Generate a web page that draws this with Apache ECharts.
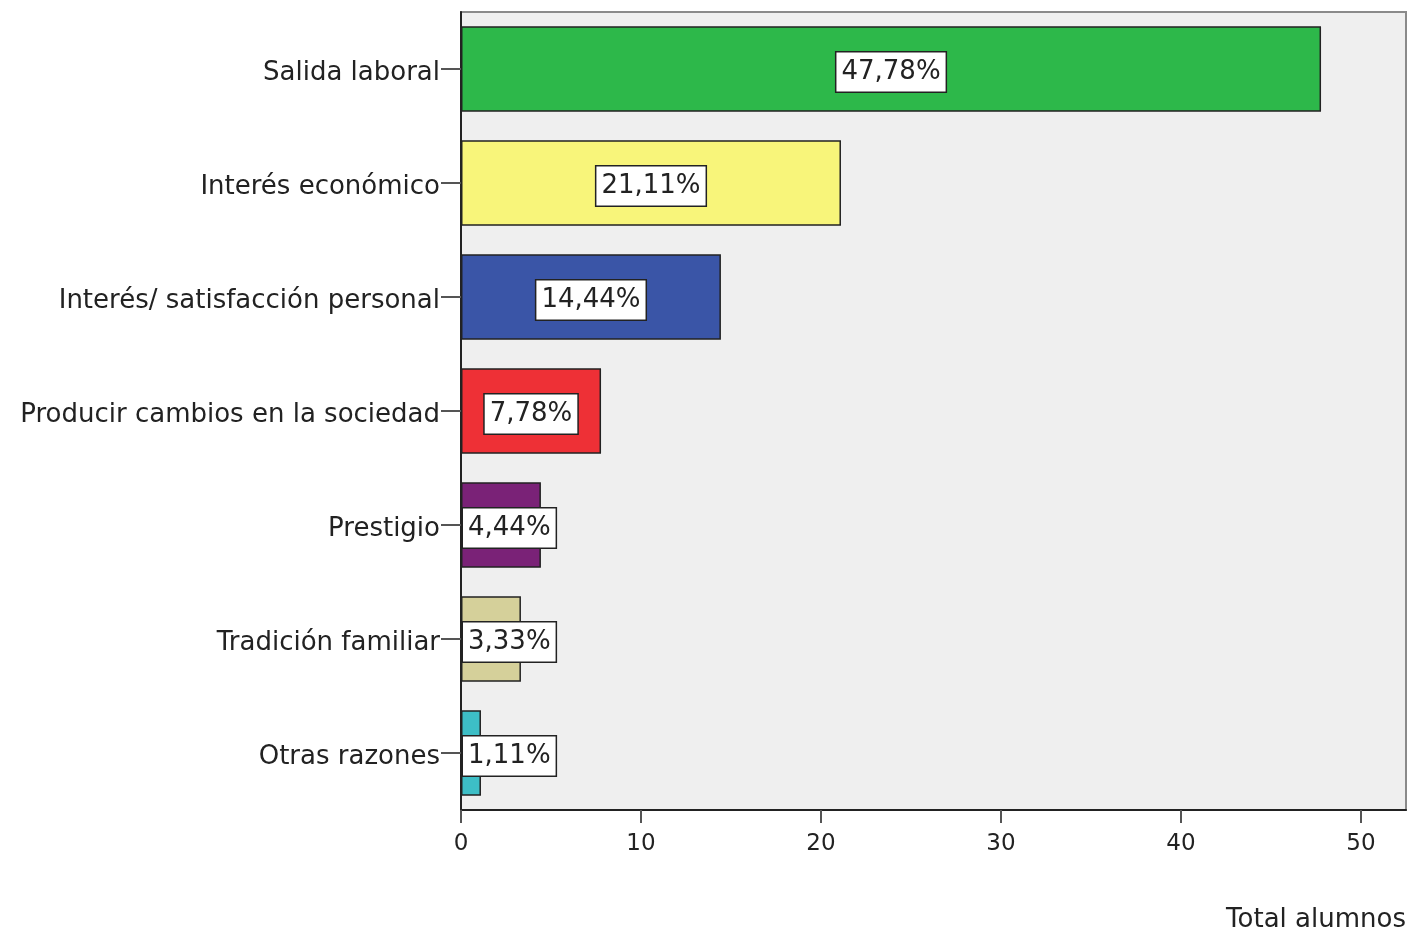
<!DOCTYPE html>
<html>
<head>
<meta charset="utf-8">
<script src="https://cdn.jsdelivr.net/npm/echarts@6/dist/echarts.min.js"></script>
<style>
  html, body { margin: 0; padding: 0; background: #fff; }
  #chart { width: 1408px; height: 932px; }
</style>
</head>
<body>
<div id="chart"></div>
<script>
// razones para elegir la carrera (porcentaje de alumnos)
var categories = ['Salida laboral', 'Interés económico', 'Interés/ satisfacción personal',
  'Producir cambios en la sociedad', 'Prestigio', 'Tradición familiar', 'Otras razones'];
var values = [47.78, 21.11, 14.44, 7.78, 4.44, 3.33, 1.11];
var labels = ['47,78%', '21,11%', '14,44%', '7,78%', '4,44%', '3,33%', '1,11%'];
var barColors = ['#2db84a', '#f8f57a', '#3a55a7', '#ee3036', '#7a2277', '#d5d09a', '#3dbec6'];
var xTicks = [0, 10, 20, 30, 40, 50];

var FONT = 'DejaVu Sans';

var chart = echarts.init(document.getElementById('chart'));

var seriesData = values.map(function (v, i) {
  // etiquetas que no caben dentro de la barra se pegan al eje
  var small = v < 6;
  return {
    value: v,
    itemStyle: { color: barColors[i] },
    label: {
      position: small ? 'insideLeft' : 'inside',
      distance: small ? 2 : 5,
      formatter: labels[i]
    }
  };
});

var option = {
  animation: false,
  grid: {
    left: 461,
    right: 2,
    top: 12,
    bottom: 122,
    containLabel: false,
    show: true,
    backgroundColor: '#efefef',
    borderColor: '#8a8a8a',
    borderWidth: 2
  },
  xAxis: {
    type: 'value',
    min: 0,
    max: 52.5,
    interval: 10,
    axisLine: { show: true, lineStyle: { color: '#222', width: 2 } },
    axisTick: { show: true, length: 13, customValues: xTicks, lineStyle: { color: '#555', width: 2 } },
    splitLine: { show: false },
    axisLabel: {
      margin: 23,
      fontFamily: FONT,
      fontSize: 23,
      color: '#222',
      customValues: xTicks
    }
  },
  yAxis: {
    type: 'category',
    inverse: true,
    data: categories,
    axisLine: { show: true, lineStyle: { color: '#222', width: 2 } },
    axisTick: { show: true, length: 20, alignWithLabel: true, lineStyle: { color: '#555', width: 2 } },
    axisLabel: {
      margin: 21,
      fontFamily: FONT,
      fontSize: 26,
      color: '#222',
      formatter: function (v) { return '{c|' + v + '}'; },
      rich: {
        c: { fontFamily: FONT, fontSize: 26, color: '#222', padding: [9, 0, 0, 0] }
      }
    }
  },
  series: [{
    type: 'bar',
    data: seriesData,
    barWidth: '75%',
    itemStyle: { borderColor: '#222', borderWidth: 1.5 },
    label: {
      show: true,
      offset: [0, 3],
      fontFamily: FONT,
      fontSize: 26,
      color: '#222',
      backgroundColor: '#fff',
      borderColor: '#222',
      borderWidth: 1.5,
      padding: [5, 5, 3, 5],
      lineHeight: 31
    }
  }],
  graphic: [{
    type: 'text',
    right: 2,
    top: 907,
    style: {
      text: 'Total alumnos',
      fontFamily: FONT,
      fontSize: 26,
      fill: '#222'
    }
  }]
};

chart.setOption(option);
</script>
</body>
</html>
